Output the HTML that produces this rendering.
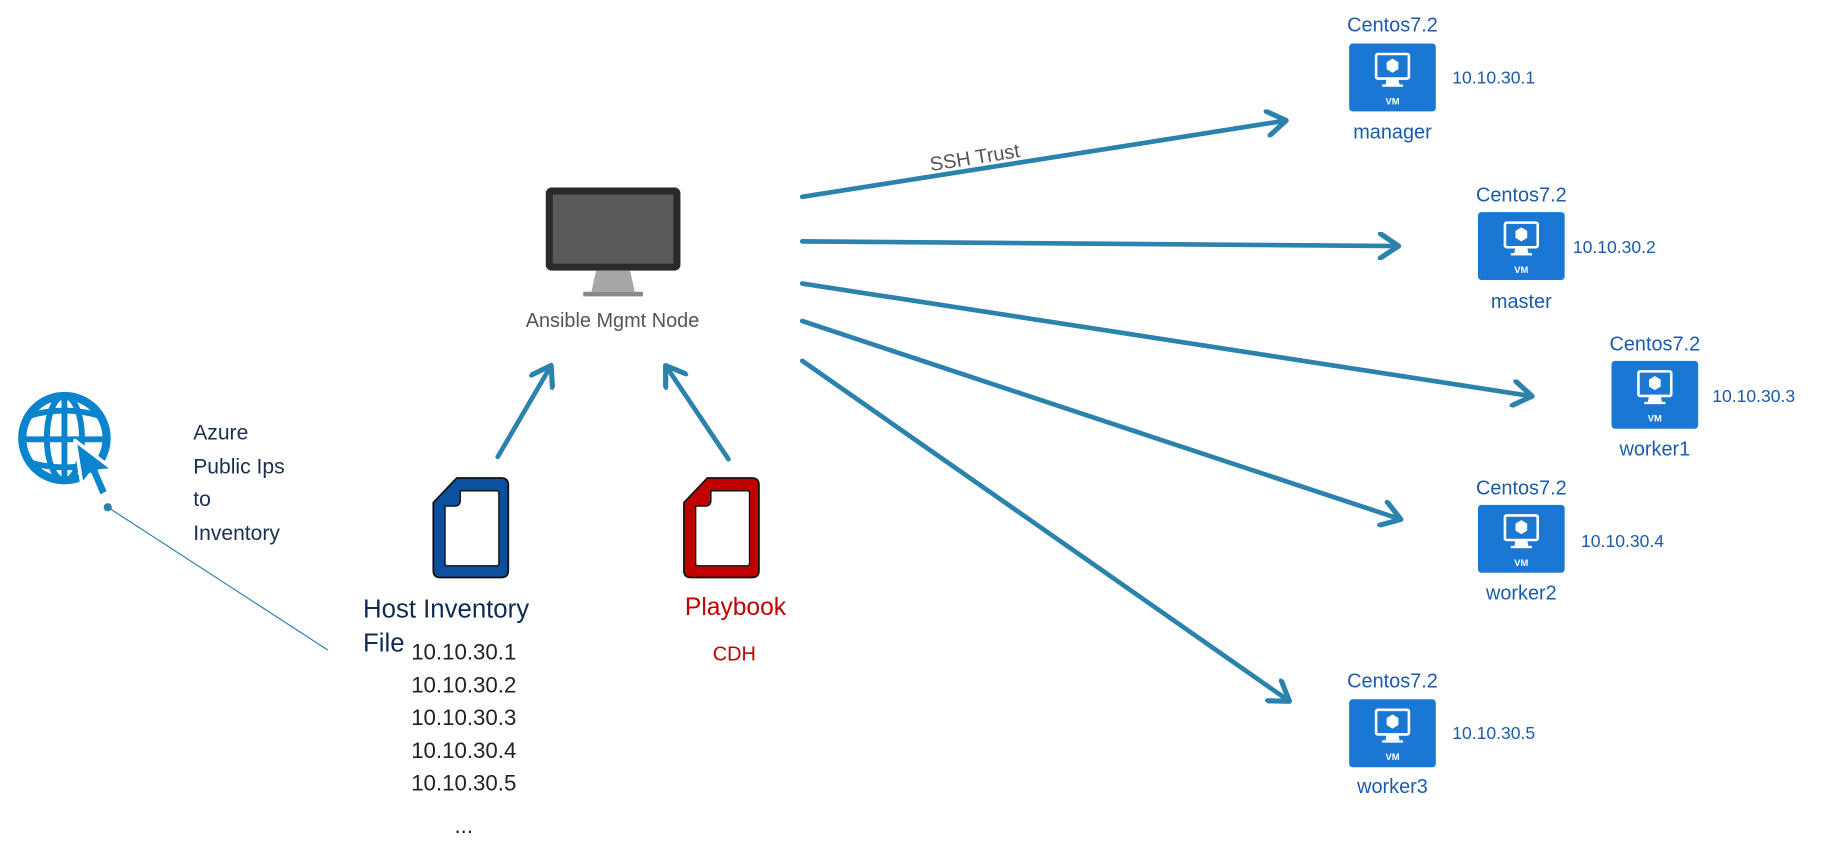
<!DOCTYPE html>
<html><head><meta charset="utf-8"><style>
html,body{margin:0;padding:0;background:#fff;}
svg{display:block;}
text{font-family:"Liberation Sans","DejaVu Sans",sans-serif;}
</style></head><body>
<svg width="1827" height="854" viewBox="0 0 1560 729" xmlns="http://www.w3.org/2000/svg">
<defs>
<marker id="ah" markerWidth="6" markerHeight="6" refX="4.2" refY="3" orient="auto" markerUnits="strokeWidth">
<path d="M0.6,0.4 L4.5,3 L0.6,5.6" fill="none" stroke="#2b83ad" stroke-width="1.1" stroke-linecap="round" stroke-linejoin="round"/>
</marker>
<g id="vm">
<rect x="0" y="0" width="74" height="58" rx="3" fill="#1a78d4"/>
<rect x="23" y="9" width="28" height="21" rx="1.5" fill="none" stroke="#fff" stroke-width="2.2"/>
<path d="M32 30 L31 35 L43 35 L42 30 Z" fill="#fff"/>
<rect x="28" y="35" width="18" height="2" fill="#fff"/>
<path d="M37 13 L42 16 L42 22 L37 25 L32 22 L32 16 Z" fill="#fff"/>
<text x="37" y="52" font-size="8" font-weight="bold" fill="#fff" text-anchor="middle">VM</text>
</g>
</defs>

<!-- monitor -->
<rect x="466" y="160" width="115" height="71" rx="5" fill="#2a2a2a"/>
<rect x="472" y="166" width="103" height="59" fill="#5a5a5a"/>
<path d="M509 231 L538 231 L542 249 L505 249 Z" fill="#a6a6a6"/>
<rect x="498" y="249" width="51" height="4" fill="#888"/>
<text x="523" y="279" font-size="17" fill="#555" text-anchor="middle">Ansible Mgmt Node</text>

<!-- arrows -->
<g stroke="#2b83ad" stroke-width="4" fill="none" stroke-linecap="round" marker-end="url(#ah)">
<line x1="425" y1="390" x2="470" y2="313"/>
<line x1="622" y1="392" x2="569" y2="313"/>
<line x1="685" y1="168" x2="1097" y2="103"/>
<line x1="685" y1="206" x2="1193" y2="210"/>
<line x1="685" y1="242" x2="1307" y2="338"/>
<line x1="685" y1="274" x2="1195" y2="443"/>
<line x1="685" y1="308" x2="1100" y2="598"/>
</g>
<text x="795" y="146" font-size="17" fill="#555" transform="rotate(-9 795 146)">SSH Trust</text>

<!-- documents -->
<path d="M390 408 L428 408 Q434 408 434 414 L434 487 Q434 493 428 493 L376 493 Q370 493 370 487 L370 429 Z" fill="#0b4f9e" stroke="#111" stroke-width="1.5"/>
<path d="M393 419 L424 419 Q426 419 426 421 L426 481 Q426 483 424 483 L382 483 Q380 483 380 481 L380 432 L388 432 Q393 432 393 427 Z" fill="#fff" stroke="#111" stroke-width="1.2"/>
<path d="M604 408 L642 408 Q648 408 648 414 L648 487 Q648 493 642 493 L590 493 Q584 493 584 487 L584 429 Z" fill="#c00000" stroke="#111" stroke-width="1.5"/>
<path d="M607 419 L638 419 Q640 419 640 421 L640 481 Q640 483 638 483 L596 483 Q594 483 594 481 L594 432 L602 432 Q607 432 607 427 Z" fill="#fff" stroke="#111" stroke-width="1.2"/>

<text x="310" y="527" font-size="22" fill="#102a52">Host Inventory</text>
<text x="310" y="556" font-size="22" fill="#102a52">File</text>
<g font-size="19" fill="#222" text-anchor="middle">
<text x="396" y="563">10.10.30.1</text>
<text x="396" y="591">10.10.30.2</text>
<text x="396" y="619">10.10.30.3</text>
<text x="396" y="647">10.10.30.4</text>
<text x="396" y="675">10.10.30.5</text>
<text x="396" y="711">...</text>
</g>
<text x="628" y="525" font-size="21" fill="#c00000" text-anchor="middle">Playbook</text>
<text x="627" y="564" font-size="17" fill="#c00000" text-anchor="middle">CDH</text>

<!-- globe -->
<g stroke="#0a84cc" fill="none">
<circle cx="55" cy="374" r="36" stroke-width="7"/>
<ellipse cx="55" cy="374" rx="15" ry="36" stroke-width="5"/>
<line x1="55" y1="338" x2="55" y2="410" stroke-width="5"/>
<path d="M25 355 Q55 346 85 355" stroke-width="5"/>
<path d="M20 375 L90 375" stroke-width="5"/>
<path d="M26 395 Q55 403 84 395" stroke-width="5"/>
</g>
<path d="M64 376 L97 401 L85 402 L93 420 L85 424 L77 405 L70 414 Z" fill="#0a84cc" stroke="#fff" stroke-width="3" stroke-linejoin="round"/>
<circle cx="92" cy="433" r="3.5" fill="#2b83ad"/>
<line x1="92" y1="433" x2="280" y2="555" stroke="#2b83ad" stroke-width="1"/>
<g font-size="18" fill="#1a2f4d">
<text x="165" y="375">Azure</text>
<text x="165" y="404">Public Ips</text>
<text x="165" y="432">to</text>
<text x="165" y="461">Inventory</text>
</g>

<!-- VMs -->
<g font-size="17" fill="#1c5ba8">
<use href="#vm" x="1152" y="37"/>
<text x="1189" y="27" text-anchor="middle">Centos7.2</text>
<text x="1189" y="118" text-anchor="middle">manager</text>
<text x="1240" y="71" font-size="15">10.10.30.1</text>

<use href="#vm" x="1262" y="181"/>
<text x="1299" y="172" text-anchor="middle">Centos7.2</text>
<text x="1299" y="263" text-anchor="middle">master</text>
<text x="1343" y="216" font-size="15">10.10.30.2</text>

<use href="#vm" x="1376" y="308"/>
<text x="1413" y="299" text-anchor="middle">Centos7.2</text>
<text x="1413" y="389" text-anchor="middle">worker1</text>
<text x="1462" y="343" font-size="15">10.10.30.3</text>

<use href="#vm" x="1262" y="431"/>
<text x="1299" y="422" text-anchor="middle">Centos7.2</text>
<text x="1299" y="512" text-anchor="middle">worker2</text>
<text x="1350" y="467" font-size="15">10.10.30.4</text>

<use href="#vm" x="1152" y="597"/>
<text x="1189" y="587" text-anchor="middle">Centos7.2</text>
<text x="1189" y="677" text-anchor="middle">worker3</text>
<text x="1240" y="631" font-size="15">10.10.30.5</text>
</g>
</svg>
</body></html>
